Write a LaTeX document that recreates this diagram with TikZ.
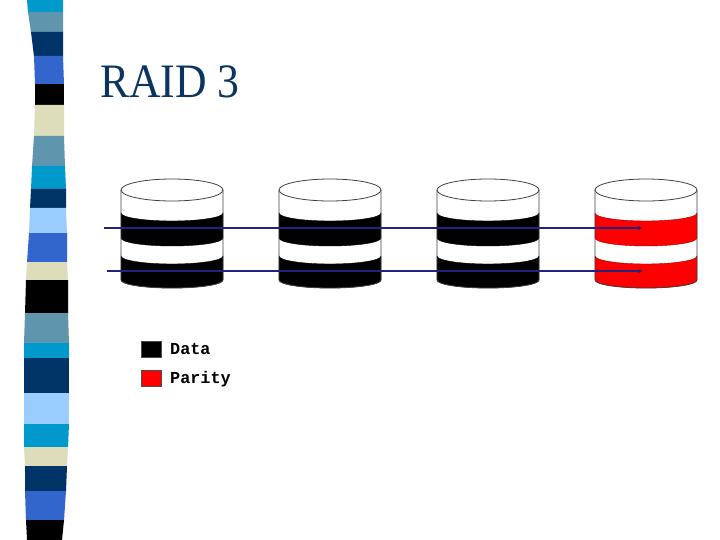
\documentclass[tikz,border=0pt]{standalone}
\usepackage{fontspec}
\setmainfont{Liberation Serif}
\newfontfamily\legfont{Liberation Mono}
\usetikzlibrary{arrows.meta}
\definecolor{scyan}{HTML}{0099CC}
\definecolor{ssteel}{HTML}{5F96AE}
\definecolor{snavy}{HTML}{003366}
\definecolor{sroyal}{HTML}{3366CC}
\definecolor{sbeige}{HTML}{DDDDBB}
\definecolor{slight}{HTML}{99CCFF}
\definecolor{titlec}{RGB}{12,52,96}
\definecolor{linkc}{RGB}{35,35,125}
\definecolor{parred}{HTML}{FF0000}
\tikzset{
  link/.style={draw=linkc,line width=1.8pt,-{Latex[length=5pt,width=4.5pt]}},
  outline/.style={draw=black!75,line width=0.8pt},
  legbox/.style={draw=black!70,line width=0.5pt,minimum width=20pt,minimum height=16pt,inner sep=0pt},
  legtext/.style={font=\legfont\bfseries\fontsize{16.8}{20}\selectfont,anchor=base west,inner sep=0pt},
}
\newcommand\blk[7]{\fill[#7] (#2,#1) -- (#3,#1) -- (#6,#4) -- (#5,#4) -- cycle;}
\newcommand\diskat[2]{%
  \begin{scope}[shift={(#1,0)}]
    \fill[white] (-51,190) -- (-51,280) arc[start angle=180,end angle=0,x radius=51,y radius=8] -- (51,190) arc[start angle=0,end angle=360,x radius=51,y radius=11] -- cycle;
    \filldraw[fill=#2,draw=#2!60!black,line width=0.4pt] (-51,213) arc[start angle=180,end angle=0,x radius=51,y radius=8] -- (51,238) arc[start angle=0,end angle=180,x radius=51,y radius=8] -- cycle;
    \filldraw[fill=#2,draw=#2!60!black,line width=0.4pt] (-51,256) arc[start angle=180,end angle=0,x radius=51,y radius=8] -- (51,280) arc[start angle=0,end angle=180,x radius=51,y radius=8] -- cycle;
    \draw[outline] (0,190) ellipse[x radius=51,y radius=11];
    \draw[outline] (-51,190) -- (-51,280) arc[start angle=180,end angle=0,x radius=51,y radius=8] -- (51,190);
  \end{scope}}
\begin{document}
\begin{tikzpicture}[x=1pt,y=-1pt]
\useasboundingbox (0,0) rectangle (720,540);
\fill[white] (0,0) rectangle (720,540);
% decorative strip
\blk{0}{27}{63}{12.5}{28}{63}{scyan}
\blk{12}{28}{63}{32.5}{31}{63}{ssteel}
\blk{32}{31}{63}{56.5}{34}{63}{snavy}
\blk{56}{34}{63}{84.5}{35}{64}{sroyal}
\blk{84}{35}{64}{105.5}{35}{64}{black}
\blk{105}{35}{64}{136.5}{34}{64}{sbeige}
\blk{136}{34}{64}{166.5}{32}{65}{ssteel}
\blk{166}{32}{65}{189.5}{31}{66}{scyan}
\blk{189}{31}{66}{208.5}{30}{66}{snavy}
\blk{208}{30}{66}{233.5}{29}{67}{slight}
\blk{233}{29}{67}{262.5}{27}{67}{sroyal}
\blk{262}{27}{67}{280.5}{26}{68}{sbeige}
\blk{280}{26}{68}{313.5}{25}{68}{black}
\blk{313}{25}{68}{343.5}{24}{69}{ssteel}
\blk{343}{24}{69}{358.5}{24}{69}{scyan}
\blk{358}{24}{69}{393.5}{24}{69}{snavy}
\blk{393}{24}{69}{424.5}{24}{69}{slight}
\blk{424}{24}{69}{447.5}{24}{68}{scyan}
\blk{447}{24}{68}{466.5}{25}{67}{sbeige}
\blk{466}{25}{67}{491.5}{25}{66}{snavy}
\blk{491}{25}{66}{520.5}{26}{64}{sroyal}
\blk{520}{26}{64}{540}{27}{62}{black}
% title
\node[anchor=base west,inner sep=0pt,text=titlec,font=\fontsize{48}{56}\selectfont] (title) at (100,98) {\scalebox{0.91}[1]{RAID 3}};
% disks
\diskat{172}{black}
\diskat{330}{black}
\diskat{488}{black}
\diskat{646}{parred}
% stripes across disks
\coordinate (s1) at (104,228);
\coordinate (e1) at (643,228);
\coordinate (s2) at (107,271);
\coordinate (e2) at (643,271);
\draw[link] (s1) -- (e1);
\draw[link] (s2) -- (e2);
% legend
\node[legbox,fill=black,anchor=north west] (kdata) at (140.5,340.5) {};
\node[legbox,fill=parred,anchor=north west] (kpar) at (140.5,369.5) {};
\node[legtext] (tdata) at (170,354) {Data};
\node[legtext] (tpar) at (170,383) {Parity};
\end{tikzpicture}
\end{document}
